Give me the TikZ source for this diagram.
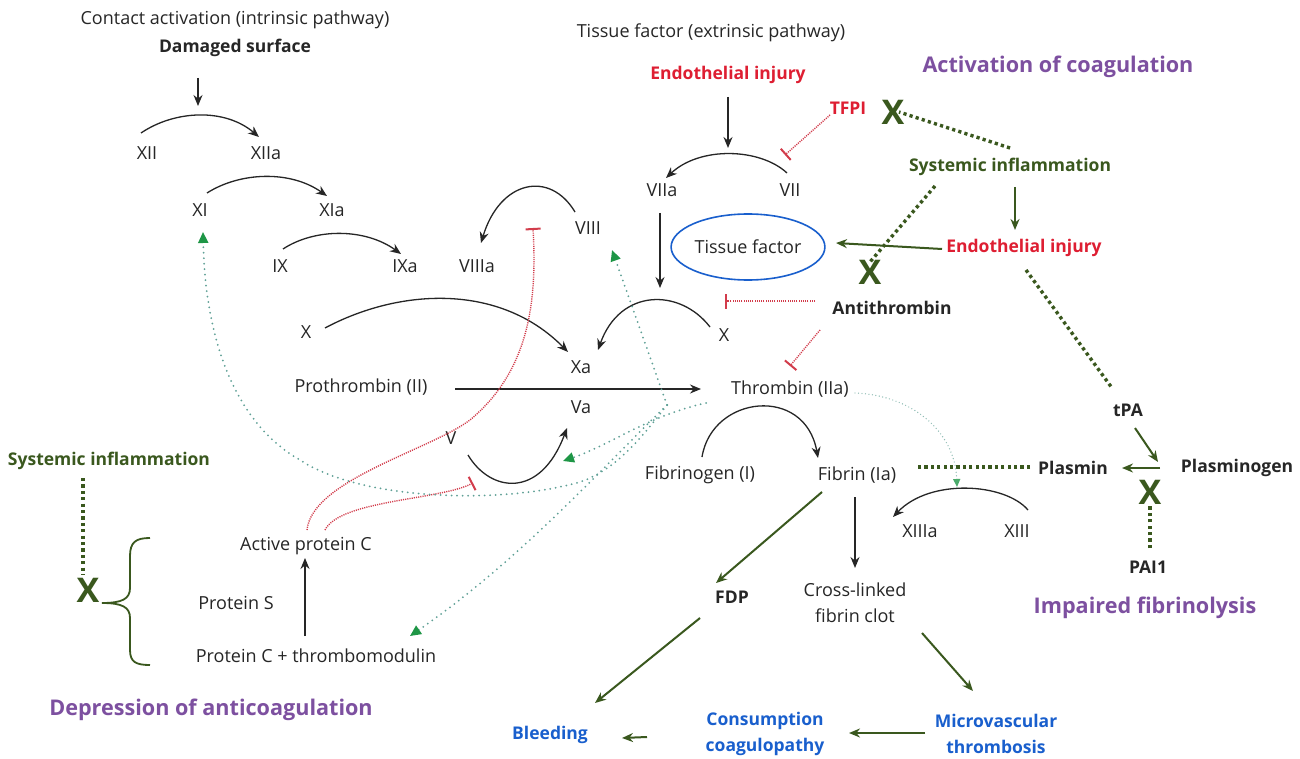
\documentclass[tikz,border=0pt]{standalone}
\usepackage{fontspec}
\setmainfont{Open Sans}
\usetikzlibrary{arrows.meta,shapes.geometric}
\definecolor{purp}{RGB}{125,80,160}
\definecolor{dkg}{RGB}{58,88,30}
\definecolor{rtxt}{RGB}{222,30,50}
\definecolor{btxt}{RGB}{25,95,205}
\definecolor{ell}{RGB}{25,95,205}
\definecolor{tdotc}{RGB}{95,160,150}
\definecolor{gtip}{RGB}{30,150,70}
\definecolor{rdotc}{RGB}{210,60,75}
\begin{document}
\begin{tikzpicture}[x=1pt,y=-1pt,
  txt/.style={font=\fontsize{18}{26}\selectfont, inner sep=1pt, text=black!85},
  btxt/.style={txt, font=\fontsize{17.5}{26}\selectfont\bfseries},
  gtxt/.style={txt, text=dkg, font=\fontsize{17.5}{26}\selectfont\bfseries},
  rlab/.style={txt, text=rtxt, font=\fontsize{17.5}{26}\selectfont\bfseries},
  blab/.style={txt, font=\fontsize{17.5}{26}\selectfont\bfseries, text=btxt, align=center},
  ttl/.style={txt, font=\fontsize{21.6}{26}\selectfont\bfseries, text=purp},
  xmark/.style={inner sep=0pt, font=\fontsize{34}{34}\selectfont\bfseries, text=dkg},
  blk/.style={draw=black!85, line width=1.3pt, -{Stealth[length=11pt,width=9pt]}},
  grn/.style={draw=dkg, line width=2pt, -{Stealth[length=11pt,width=9pt]}},
  gdot/.style={draw=dkg, line width=3.4pt, dash pattern=on 3.2pt off 3.2pt},
  tdot/.style={draw=tdotc, line width=2pt, line cap=round, dash pattern=on 0pt off 5.5pt, -{Triangle[length=11pt,width=10pt,color=gtip,fill=gtip]}},
  rdot/.style={draw=rdotc, line width=1.4pt, dash pattern=on 1.1pt off 1.1pt, -{Bar[width=15pt,line width=2pt]}}
]
\useasboundingbox (0,0) rectangle (1300,759);
\fill[white] (0,0) rectangle (1300,759);

% ---- nodes ----
\node[txt] (ca) at (235,20) {Contact activation (intrinsic pathway)};
\node[btxt] (ds) at (235,48) {Damaged surface};
\node[txt] (xii) at (147,153) {XII};
\node[txt] (xiia) at (266,153) {XIIa};
\node[txt] (xi) at (200,210) {XI};
\node[txt] (xia) at (332,210) {XIa};
\node[txt] (ix) at (280,266) {IX};
\node[txt] (ixa) at (405,266) {IXa};
\node[txt] (viiia) at (477,266) {VIIIa};
\node[txt] (viii) at (588,228) {VIII};
\node[txt] (tfe) at (711,33) {Tissue factor (extrinsic pathway)};
\node[rlab] (ei1) at (728,75) {Endothelial injury};
\node[rlab] (tfpi) at (848,108) {TFPI};
\node[ttl] (act) at (1058,67) {Activation of coagulation};
\node[txt] (viia) at (662,190) {VIIa};
\node[txt] (vii) at (790,190) {VII};
\node[txt, ellipse, draw=ell, line width=1.6pt, minimum width=144pt, minimum height=66pt] (tf) at (748,247) {Tissue factor};
\node[gtxt] (si1) at (1010,167) {Systemic inflammation};
\node[rlab] (ei2) at (1024,248) {Endothelial injury};
\node[txt] (xl) at (306,332) {X};
\node[txt] (xr) at (724,335) {X};
\node[btxt] (at) at (892,308) {Antithrombin};
\node[txt] (xa) at (581,367) {Xa};
\node[txt] (pro) at (361,387) {Prothrombin (II)};
\node[txt] (thr) at (790,389) {Thrombin (IIa)};
\node[txt] (va) at (581,407) {Va};
\node[txt] (v) at (451,438) {V};
\node[btxt] (tpa) at (1128,410) {tPA};
\node[gtxt] (si2) at (109,461) {Systemic inflammation};
\node[txt] (fbg) at (700,475) {Fibrinogen (I)};
\node[txt] (fbn) at (857,475) {Fibrin (Ia)};
\node[btxt] (pls) at (1073,468) {Plasmin};
\node[btxt] (plg) at (1237,468) {Plasminogen};
\node[txt] (xiiia) at (920,531) {XIIIa};
\node[txt] (xiii) at (1017,531) {XIII};
\node[btxt] (pai) at (1148,567) {PAI1};
\node[txt] (apc) at (306,546) {Active protein C};
\node[btxt] (fdp) at (732,597) {FDP};
\node[txt, align=center] (clot) at (855,603) {Cross-linked\\fibrin clot};
\node[txt] (ps) at (236,603) {Protein S};
\node[ttl] (imp) at (1145,608) {Impaired fibrinolysis};
\node[txt] (pctm) at (316,656) {Protein C + thrombomodulin};
\node[ttl] (dep) at (211,710) {Depression of anticoagulation};
\node[blab] (bl) at (550,735) {Bleeding};
\node[blab] (cc) at (765,734) {Consumption\\coagulopathy};
\node[blab] (mt) at (996,734) {Microvascular\\thrombosis};
\node[xmark] (x1) at (893,112) {X};
\node[xmark] (x2) at (870,272) {X};
\node[xmark] (x3) at (1150,492) {X};
\node[xmark] (x4) at (88,590) {X};

% ---- black arrows ----
\draw[blk] ([shift={(-37,30)}]ds.center) -- ([shift={(-37,58)}]ds.center);
\draw[blk] ([shift={(-6,-20)}]xii.center) .. controls (175,110) and (225,108) .. ([shift={(-7,-16)}]xiia.center);
\draw[blk] ([shift={(7,-17)}]xi.center) .. controls (240,172) and (290,170) .. ([shift={(-5,-14)}]xia.center);
\draw[blk] ([shift={(3,-17)}]ix.center) .. controls (315,228) and (365,228) .. ([shift={(-4,-12)}]ixa.center);
\draw[blk] ([shift={(-13,-16)}]viii.center) .. controls (550,170) and (500,180) .. ([shift={(4,-23)}]viiia.center);
\draw[blk] ([shift={(0,22)}]ei1.center) -- ([shift={(0,73)}]ei1.center);
\draw[blk] ([shift={(-3,-17)}]vii.center) .. controls (760,148) and (700,146) .. ([shift={(4,-12)}]viia.center);
\draw[blk] ([shift={(-2,23)}]viia.center) -- ([shift={(-2,98)}]viia.center);
\draw[blk] ([shift={(-14,-8)}]xr.center) .. controls (680,288) and (620,288) .. ([shift={(17,-17)}]xa.center);
\draw[blk] ([shift={(19,-4)}]xl.center) .. controls (400,288) and (500,283) .. ([shift={(-13,-15)}]xa.center);
\draw[blk] ([shift={(94,2)}]pro.center) -- ([shift={(-89,0)}]thr.center);
\draw[blk] ([shift={(17,17)}]v.center) .. controls (490,492) and (540,500) .. ([shift={(-14,21)}]va.center);
\draw[blk] ([shift={(2,-18)}]fbg.center) .. controls (712,395) and (805,385) .. ([shift={(-39,-17)}]fbn.center);
\draw[blk] ([shift={(-2,22)}]fbn.center) -- ([shift={(0,-35)}]clot.center);
\draw[blk] ([shift={(11,-21)}]xiii.center) .. controls (1005,483) and (930,478) .. ([shift={(-27,-14)}]xiiia.center);
\draw[blk] ([shift={(-11,-20)}]pctm.center) -- ([shift={(-1,12)}]apc.center);

% ---- green arrows ----
\draw[grn] ([shift={(5,20)}]si1.center) -- ([shift={(-9,-18)}]ei2.center);
\draw[grn] ([shift={(-82,1)}]ei2.center) -- ([shift={(88,-4)}]tf.center);
\draw[grn] ([shift={(7,18)}]tpa.center) -- ([shift={(30,52)}]tpa.center);
\draw[grn] ([shift={(-77,0)}]plg.center) -- ([shift={(49,0)}]pls.center);
\draw[grn] ([shift={(-35,17)}]fbn.center) -- ([shift={(-16,-14)}]fdp.center);
\draw[grn] ([shift={(-32,21)}]fdp.center) -- ([shift={(45,-32)}]bl.center);
\draw[grn] ([shift={(67,30)}]clot.center) -- ([shift={(-23,-43)}]mt.center);
\draw[grn] ([shift={(-71,-1)}]mt.center) -- ([shift={(84,-1)}]cc.center);
\draw[grn] ([shift={(-118,3)}]cc.center) -- ([shift={(72,3)}]bl.center);

% ---- green dotted ----
\draw[gdot] ([shift={(0,-19)}]si1.center) -- ([shift={(6,0)}]x1.center);
\draw[gdot] ([shift={(-75,19)}]si1.center) -- ([shift={(0,-10)}]x2.center);
\draw[gdot] ([shift={(2,22)}]ei2.center) -- ([shift={(-16,-22)}]tpa.center);
\draw[gdot] ([shift={(-43,-1)}]pls.center) -- ([shift={(-156,-1)}]pls.center);
\draw[gdot] ([shift={(2,-19)}]pai.center) -- ([shift={(0,13)}]x3.center);
\draw[gdot] ([shift={(-26,17)}]si2.center) -- ([shift={(-5,-15)}]x4.center);

% ---- brace ----
\draw[dkg, line width=1.8pt] (150,538) .. controls (136,538) and (130,542) .. (130,556) -- (130,588)
  .. controls (130,599) and (122,603) .. ([shift={(14,13)}]x4.center)
  .. controls (122,603) and (130,607) .. (130,618) -- (130,650)
  .. controls (130,662) and (136,665) .. (150,665);

% ---- red inhibitions ----
\draw[rdot] ([shift={(-18,7)}]tfpi.center) -- ([shift={(-5,-35)}]vii.center);
\draw[rdot] ([shift={(-77,-7)}]at.center) -- ([shift={(-167,-7)}]at.center);
\draw[rdot] ([shift={(-72,22)}]at.center) -- ([shift={(0,-23)}]thr.center);
\draw[rdot] ([shift={(1,-16)}]apc.center) .. controls (312,480) and (430,450) .. (470,420)
  .. controls (530,370) and (537,300) .. ([shift={(-55,0)}]viii.center);
\draw[rdot] ([shift={(19,-16)}]apc.center) .. controls (340,500) and (440,500) .. ([shift={(22,45)}]v.center);

% ---- teal dotted ----
\coordinate (jt) at ([shift={(-123,16)}]thr.center);
\draw[tdot] (jt) -- ([shift={(24,22)}]viii.center);
\draw[tdot] ([shift={(-84,14)}]thr.center) .. controls (650,415) and (610,445) .. ([shift={(-18,54)}]va.center);
\draw[tdot] (jt) .. controls (600,470) and (520,560) .. ([shift={(94,-20)}]pctm.center);
\draw[tdot] (jt) .. controls (640,440) and (615,470) .. (580,482)
  .. controls (500,505) and (360,500) .. (300,460)
  .. controls (230,420) and (205,330) .. ([shift={(3,22)}]xi.center);
\draw[tdot, draw=tdotc!70, line width=1.4pt, dash pattern=on 0pt off 3.5pt, -{Triangle[length=8pt,width=7pt,color=gtip!80,fill=gtip!80]}]
  ([shift={(65,4)}]thr.center) .. controls (910,395) and (955,430) .. ([shift={(-60,-44)}]xiii.center);
\end{tikzpicture}
\end{document}
